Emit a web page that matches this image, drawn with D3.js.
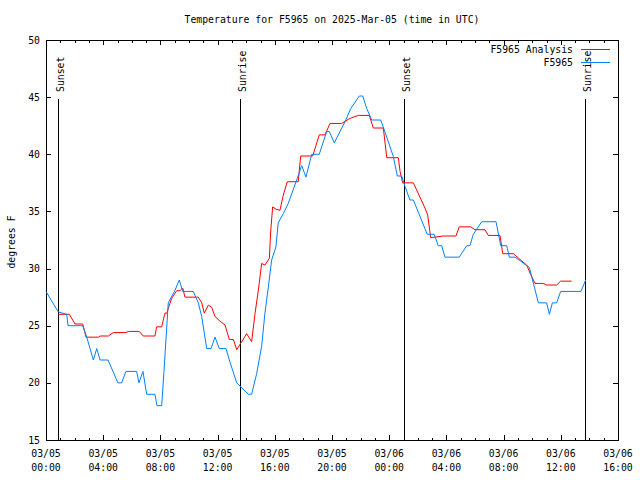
<!DOCTYPE html>
<html><head><meta charset="utf-8">
<script src="https://cdn.jsdelivr.net/npm/d3@7"></script>
<style>
body{margin:0;background:#fff}
svg{display:block}
text{font-family:"DejaVu Sans Mono","Liberation Mono",monospace;font-size:9.8px;fill:#000}
</style>
</head><body>
<svg id="chart" width="640" height="480"></svg>
<script>
// ---- data (hours after 2025-03-05 00:00 UTC) ----
const titleText = "Temperature for F5965 on 2025-Mar-05 (time in UTC)";
const yLabel = "degrees F";
const xTickHours = [0, 4, 8, 12, 16, 20, 24, 28, 32, 36, 40];
const xTickDates = ["03/05","03/05","03/05","03/05","03/05","03/05","03/06","03/06","03/06","03/06","03/06"];
const xTickTimes = ["00:00","04:00","08:00","12:00","16:00","20:00","00:00","04:00","08:00","12:00","16:00"];
const yTicks = [15, 20, 25, 30, 35, 40, 45, 50];

const sunLabels = ["Sunset", "Sunrise", "Sunset", "Sunrise"];
const sunHours = [0.84, 13.57, 25.03, 37.69];

const seriesNames = ["F5965 Analysis", "F5965"];

const analysisHours = [0.86,1.63,2.03,2.57,2.8,3.66,3.78,4.36,4.71,5.59,5.76,6.52,6.8,7.62,7.74,8.09,8.32,8.44,8.79,9.14,9.37,9.56,9.72,10.65,10.89,11.07,11.35,11.59,11.82,12.17,12.52,12.82,13.1,13.34,14.03,14.38,14.62,14.85,15.08,15.31,15.62,15.71,15.85,16.08,16.36,16.59,16.87,17.64,17.81,18.65,19.11,19.51,19.86,20.68,21.14,21.38,21.84,22.61,22.89,23.59,23.83,24.64,24.76,24.94,25.69,26.5,26.69,26.9,27.78,28.67,28.9,29.7,30,30.7,30.93,31.75,31.94,32.68,33.62,33.85,34.2,34.78,35.01,35.71,35.99,36.76];
const analysisTemps = [26,26,25.15,25.15,24,24,24.1,24.1,24.4,24.4,24.5,24.5,24.1,24.1,24.9,24.9,26.1,26.1,27.4,28.06,28.06,28.3,27.5,27.5,27,26.1,26.8,26.6,25.8,25.4,25.06,23.8,23.8,22.9,24.3,23.6,26.1,28.1,30.45,30.3,30.9,33.2,35.4,35.2,35.1,36.4,37.6,37.6,39.85,39.85,41.7,41.7,42.7,42.7,43.06,43.2,43.4,43.4,42.3,42.3,39.7,39.7,38.5,37.5,37.5,35.3,34.7,32.7,32.85,32.85,33.65,33.65,33.4,33.4,32.9,32.9,31.3,31.3,30.3,29.6,28.7,28.7,28.56,28.56,28.9,28.9];

const obsHours = [0,0.86,1.45,1.54,2.57,2.85,3.31,3.55,3.78,4.34,5.03,5.29,5.59,6.34,6.5,6.78,7.04,7.62,7.76,8.09,8.25,8.55,9.02,9.32,9.56,10.3,10.65,10.89,11.24,11.54,11.82,12.12,12.59,12.87,13.34,14.15,14.38,14.73,15.08,15.31,15.55,15.78,16.08,16.24,16.59,16.94,17.53,17.88,18.18,18.58,19.11,19.63,19.81,20.16,20.91,21.31,21.91,22.15,22.43,22.78,23.41,23.83,24.29,24.57,24.87,25.1,25.45,25.69,26.66,27.15,27.43,27.67,27.9,28.9,29.42,29.65,29.88,30.47,31.47,31.8,32.22,32.4,32.8,33.8,34.43,35.01,35.2,35.41,35.71,35.99,37.41,37.74];
const obsTemps = [28,26.2,26,25,25,24,22,23,22,22,20,20,21,21,20,21,19,19,18,18,21,27,28.1,29,28,28,27,25.8,23,23,24,23,23,21.8,20,19,19,20.8,23.2,26.1,28.4,30.75,31.9,34,34.8,35.7,37.75,39,38,40,40,42,42,41,42.85,44,45.1,45.1,44,43,43,41.5,39.8,38.1,38.1,37.2,36,36,33,33,32,32,31,31,32,32,33,34.1,34.1,32,32,31,31,30.1,27,27,26,27,27,28,28,29];

// ---- drawing ----
const svg = d3.select("#chart");
const L = 46, R = 618, T = 40, B = 440;
const x = d3.scaleLinear().domain([0, 40]).range([L, R]);
const y = d3.scaleLinear().domain([15, 50]).range([B, T]);

const crisp = g => g.attr("shape-rendering", "crispEdges");

// title
svg.append("text").attr("x", 332).attr("y", 23).attr("text-anchor", "middle").text(titleText);

// y label
svg.append("text").attr("transform", "translate(15,242) rotate(-90)")
  .attr("text-anchor", "middle").text(yLabel);

function styleAxis(g) {
  g.select(".domain").remove();
  g.selectAll("line").attr("stroke", "#000");
  crisp(g);
}

// major x ticks bottom / top
const minorHours = d3.range(0, 41).filter(h => h % 4 !== 0);
svg.append("g").attr("transform", `translate(0,${B})`)
  .call(d3.axisBottom(x).tickValues(xTickHours).tickSize(-5).tickFormat(""))
  .call(styleAxis);
svg.append("g").attr("transform", `translate(0,${B})`)
  .call(d3.axisBottom(x).tickValues(minorHours).tickSize(-2.5).tickFormat(""))
  .call(styleAxis);
svg.append("g").attr("transform", `translate(0,${T})`)
  .call(d3.axisTop(x).tickValues(xTickHours).tickSize(-5).tickFormat(""))
  .call(styleAxis);
svg.append("g").attr("transform", `translate(0,${T})`)
  .call(d3.axisTop(x).tickValues(minorHours).tickSize(-2.5).tickFormat(""))
  .call(styleAxis);

// x tick labels (two lines)
const xl = svg.append("g");
xTickHours.forEach((h, i) => {
  const t = xl.append("text").attr("text-anchor", "middle");
  t.append("tspan").attr("x", x(h)).attr("y", 457).text(xTickDates[i]);
  t.append("tspan").attr("x", x(h)).attr("y", 471).text(xTickTimes[i]);
});

// y axes
svg.append("g").attr("transform", `translate(${L},0)`)
  .call(d3.axisLeft(y).tickValues(yTicks).tickSize(-5).tickPadding(6).tickFormat(d3.format("d")))
  .call(styleAxis)
  .call(g => g.selectAll("text").attr("fill", "#000").style("font-family", "DejaVu Sans Mono, monospace").style("font-size", "9.8px"));
svg.append("g").attr("transform", `translate(${R},0)`)
  .call(d3.axisRight(y).tickValues(yTicks).tickSize(-5).tickFormat(""))
  .call(styleAxis);

// frame
svg.append("rect").attr("x", L + 0.5).attr("y", T + 0.5).attr("width", R - L).attr("height", B - T)
  .attr("fill", "none").attr("stroke", "#000").attr("shape-rendering", "crispEdges");

// sun lines
sunHours.forEach((h, i) => {
  const px = Math.round(x(h)) + 0.5;
  svg.append("line").attr("x1", px).attr("x2", px).attr("y1", 99).attr("y2", B)
    .attr("stroke", "#000").attr("shape-rendering", "crispEdges");
  svg.append("text").attr("transform", `translate(${px + 5},92) rotate(-90)`)
    .attr("text-anchor", "start").text(sunLabels[i]);
});

// series
const line = d3.line().x(d => x(d[0])).y(d => y(d[1]));
const anaData = d3.zip(analysisHours, analysisTemps);
const obsData = d3.zip(obsHours, obsTemps);
svg.append("path").datum(anaData).attr("d", line).attr("fill", "none")
  .attr("stroke", "#ff0000").attr("stroke-width", 1);
svg.append("path").datum(obsData).attr("d", line).attr("fill", "none")
  .attr("stroke", "#0080ff").attr("stroke-width", 1);

// legend
const legColors = ["#ff0000", "#0080ff"];
seriesNames.forEach((n, i) => {
  const ly = 49 + i * 13;
  svg.append("text").attr("x", 573).attr("y", ly + 4).attr("text-anchor", "end").text(n);
  svg.append("line").attr("x1", 581).attr("x2", 610).attr("y1", ly + 0.5).attr("y2", ly + 0.5)
    .attr("stroke", legColors[i]).attr("shape-rendering", "crispEdges");
});
</script>
</body></html>
